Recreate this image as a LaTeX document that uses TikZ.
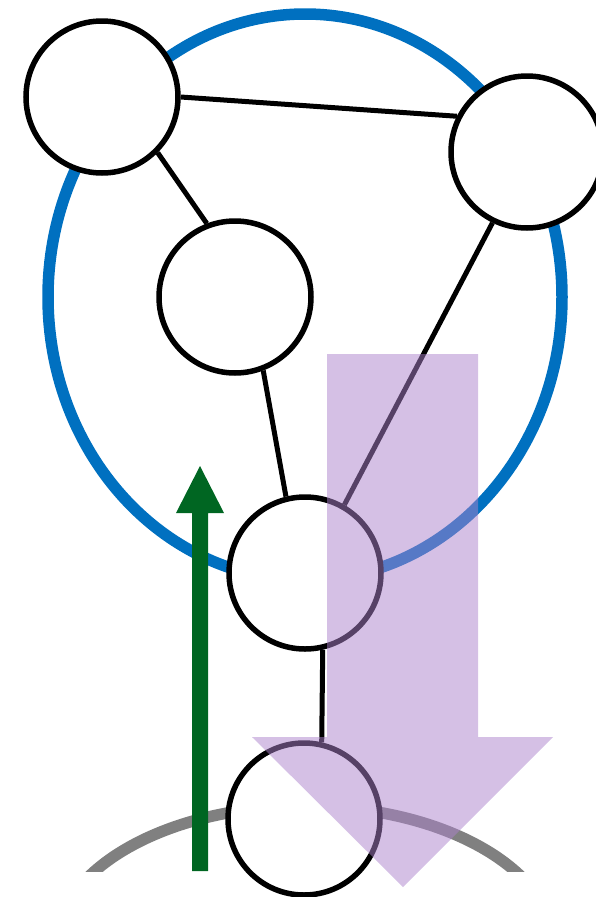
\documentclass[tikz,border=0pt]{standalone}
\definecolor{bluering}{RGB}{0,112,192}
\definecolor{grayring}{RGB}{128,128,128}
\definecolor{arrowgreen}{RGB}{0,102,34}
\definecolor{arrowpurple}{RGB}{172,130,204}
\tikzset{
  vertex/.style={circle, draw=black, line width=5.5pt, fill=white, minimum size=152pt, inner sep=0pt},
  edge/.style={draw=black, line width=5pt},
  ring/.style={line width=11.5pt},
}
\begin{document}
\begin{tikzpicture}[x=1pt,y=-1pt]
\useasboundingbox (0,0) rectangle (596,897);
% blue ring
\draw[ring, draw=bluering] (305,297) ellipse [x radius=257, y radius=283];
% gray arc, clipped
\begin{scope}
\clip (0,0) rectangle (596,871);
\draw[ring, draw=grayring] (305,948) ellipse [x radius=250, y radius=142];
\end{scope}
% nodes
\node[vertex] (A) at (102,97) {};
\node[vertex] (B) at (527,152) {};
\node[vertex] (C) at (235,297) {};
\node[vertex] (D) at (305,573) {};
\node[vertex] (E) at (304,819) {};
% edges
\draw[edge] (A.0) -- (B.153);
\draw[edge] (A.-45) -- (C.111);
\draw[edge] (C.-69) -- (D.104);
\draw[edge] (B.-116) -- (D.60);
\draw[edge] (D.-77) -- (E.77);
% green arrow
\fill[arrowgreen] (192,871) -- (192,513) -- (176,513) -- (200,466) -- (224,513) -- (208,513) -- (208,871) -- cycle;
% purple arrow
\fill[arrowpurple, fill opacity=0.5] (327,354) -- (478,354) -- (478,737) -- (553,737) -- (403,887) -- (252,737) -- (327,737) -- cycle;
\end{tikzpicture}
\end{document}
